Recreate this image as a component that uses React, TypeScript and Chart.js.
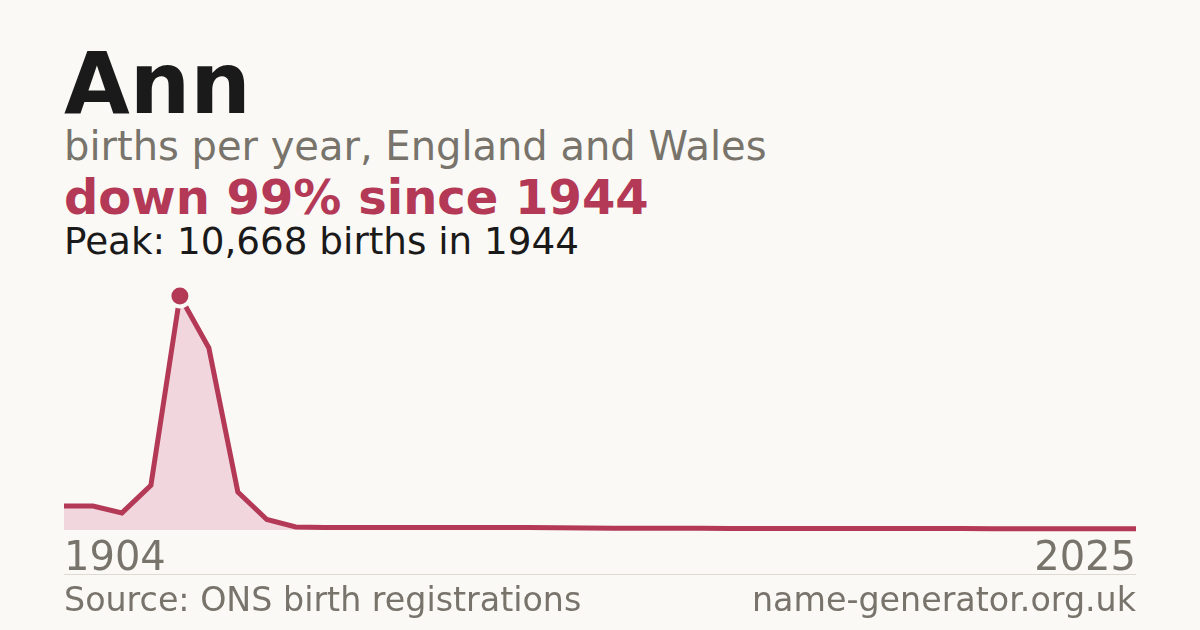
import React, { useEffect, useRef } from 'react';
import { Chart, registerables } from 'chart.js';

Chart.register(...registerables);

// decade samples, then yearly
const decadeYears = ['1904', '1914', '1924', '1934', '1944', '1954', '1964', '1974', '1984', '1994'];
const decadeBirths = [1090, 1090, 780, 2040, 10668, 8300, 1730, 480, 140, 115];
const recentYears = [
  '1998', '1999', '2000', '2001', '2002', '2003', '2004', '2005', '2006', '2007',
  '2008', '2009', '2010', '2011', '2012', '2013', '2014', '2015', '2016', '2017',
  '2018', '2019', '2020', '2021', '2022', '2023', '2024', '2025',
];
const recentBirths = [
  114, 113, 112, 111, 110, 110, 109, 108, 90, 85,
  84, 84, 83, 70, 69, 68, 68, 67, 66, 65,
  64, 63, 62, 61, 60, 60, 59, 58,
];

const years = [...decadeYears, ...recentYears];
const births = [...decadeBirths, ...recentBirths];
const peakIndex = births.indexOf(Math.max(...births));

const BG = '#faf9f5';
const CRIMSON = '#b33957';
const PINK = '#f1d7dd';
const GREY = '#78736b';
const INK = '#1a1a1a';
const FONT = '"DejaVu Sans", sans-serif';

const BirthsChart: React.FC = () => {
  const canvasRef = useRef<HTMLCanvasElement | null>(null);
  const chartRef = useRef<Chart | null>(null);

  useEffect(() => {
    if (!canvasRef.current) return;
    if (chartRef.current) chartRef.current.destroy();

    chartRef.current = new Chart(canvasRef.current, {
      type: 'line',
      data: {
        labels: years,
        datasets: [
          {
            data: births,
            borderColor: CRIMSON,
            borderWidth: 5,
            backgroundColor: PINK,
            fill: 'origin',
            tension: 0,
            pointRadius: births.map((_, i) => (i === peakIndex ? 10.5 : 0)),
            pointBackgroundColor: CRIMSON,
            pointBorderColor: BG,
            pointBorderWidth: 4,
            clip: false,
          },
        ],
      },
      options: {
        animation: false,
        responsive: true,
        maintainAspectRatio: false,
        layout: { padding: 0, autoPadding: false },
        plugins: {
          legend: { display: false },
          tooltip: { enabled: false },
        },
        scales: {
          x: {
            type: 'category',
            offset: false,
            grid: { display: false },
            border: { display: false },
            ticks: {
              autoSkip: false,
              maxRotation: 0,
              minRotation: 0,
              align: 'inner',
              padding: -2,
              color: GREY,
              font: { family: FONT, size: 40 },
              callback: (_v, i) => (i === 0 || i === years.length - 1 ? years[i] : ''),
            },
          },
          y: {
            display: false,
            min: 0,
            max: births[peakIndex] * 1.111,
          },
        },
      },
    });

    return () => {
      if (chartRef.current) {
        chartRef.current.destroy();
        chartRef.current = null;
      }
    };
  }, []);

  return (
    <div style={{ position: 'absolute', left: 64, top: 270, width: 1072, height: 312 }}>
      <canvas ref={canvasRef} />
    </div>
  );
};

const text = (top: number, size: number, color: string, weight = 400): React.CSSProperties => ({
  position: 'absolute',
  left: 64,
  top,
  fontFamily: FONT,
  fontSize: size,
  lineHeight: 1,
  fontWeight: weight,
  color,
  whiteSpace: 'nowrap',
});

export default function App() {
  return (
    <div
      style={{
        position: 'absolute',
        left: 0,
        top: 0,
        width: 1200,
        height: 630,
        background: BG,
        overflow: 'hidden',
      }}
    >
      <div style={text(41, 85, INK, 700)}>Ann</div>
      <div style={text(126, 40, GREY)}>births per year, England and Wales</div>
      <div style={text(173, 48, CRIMSON, 700)}>down 99% since 1944</div>
      <div style={text(223, 37.3, INK)}>Peak: 10,668 births in 1944</div>
      <BirthsChart />
      <div style={{ position: 'absolute', left: 64, top: 574, width: 1072, height: 1, background: '#dedad2' }} />
      <div style={text(583, 33.3, GREY)}>Source: ONS birth registrations</div>
      <div style={{ ...text(583, 33.3, GREY), left: 'auto', right: 64 }}>name-generator.org.uk</div>
    </div>
  );
}
